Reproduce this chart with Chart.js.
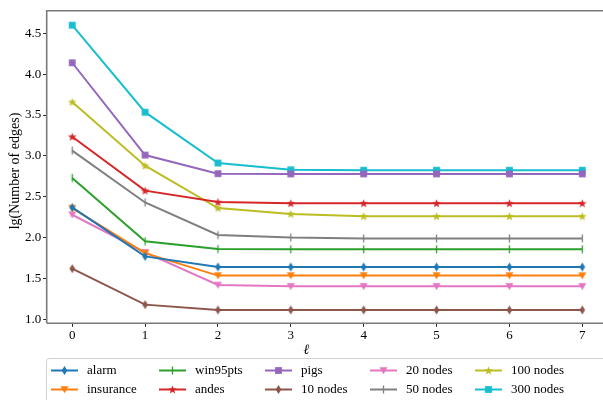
<!DOCTYPE html>
<html>
<head>
<meta charset="utf-8">
<script src="https://cdn.jsdelivr.net/npm/chart.js@4.4.1/dist/chart.umd.min.js"></script>
<style>
  html, body { margin: 0; padding: 0; background: #fff; overflow: hidden; }
  #wrap { position: relative; width: 603px; height: 400px; }
  canvas { display: block; width: 603px; height: 400px; }
</style>
</head>
<body>
<div id="wrap"><canvas id="chart" width="603" height="400"></canvas></div>
<script>
// Neighbourhood depth ℓ on the x axis
const levels = [0, 1, 2, 3, 4, 5, 6, 7];
const yTicks = [1.0, 1.5, 2.0, 2.5, 3.0, 3.5, 4.0, 4.5];

// lg(number of edges) per network
const alarm     = [2.37, 1.77, 1.64, 1.64, 1.64, 1.64, 1.64, 1.64];
const insurance = [2.36, 1.81, 1.535, 1.535, 1.535, 1.535, 1.535, 1.535];
const win95pts  = [2.73, 1.955, 1.86, 1.857, 1.857, 1.857, 1.857, 1.857];
const andes     = [3.235, 2.575, 2.435, 2.42, 2.42, 2.42, 2.42, 2.42];
const pigs      = [4.14, 3.01, 2.783, 2.78, 2.78, 2.78, 2.78, 2.78];
const nodes10   = [1.62, 1.18, 1.115, 1.115, 1.115, 1.115, 1.115, 1.115];
const nodes20   = [2.28, 1.82, 1.42, 1.404, 1.404, 1.404, 1.404, 1.404];
const nodes50   = [3.065, 2.43, 2.032, 2.0, 1.99, 1.99, 1.99, 1.99];
const nodes100  = [3.66, 2.88, 2.362, 2.29, 2.262, 2.262, 2.262, 2.262];
const nodes300  = [4.60, 3.535, 2.913, 2.83, 2.825, 2.825, 2.825, 2.825];

const seriesNames = ['alarm', 'insurance', 'win95pts', 'andes', 'pigs',
                     '10 nodes', '20 nodes', '50 nodes', '100 nodes', '300 nodes'];
const seriesValues = [alarm, insurance, win95pts, andes, pigs,
                      nodes10, nodes20, nodes50, nodes100, nodes300];
const seriesColors = ['#1f77b4', '#ff7f0e', '#2ca02c', '#d62728', '#9467bd',
                      '#8c564b', '#e377c2', '#7f7f7f', '#bcbd22', '#17becf'];
const seriesMarkers = ['thinDiamond', 'triDown', 'vline', 'star', 'square',
                       'thinDiamond', 'triDown', 'vline', 'star', 'square'];

const FONT = '"Liberation Serif", "Times New Roman", serif';

// small marker sprites
function makeMarker(kind, color) {
  const c = document.createElement('canvas');
  const s = 11;
  c.width = s; c.height = s;
  const g = c.getContext('2d');
  g.fillStyle = color; g.strokeStyle = color;
  const m = s / 2;
  g.beginPath();
  if (kind === 'thinDiamond') {
    g.moveTo(m, m - 4.6); g.lineTo(m + 2.8, m); g.lineTo(m, m + 4.6); g.lineTo(m - 2.8, m);
    g.closePath(); g.fill();
  } else if (kind === 'triDown') {
    g.moveTo(m - 4, m - 3.3); g.lineTo(m + 4, m - 3.3); g.lineTo(m, m + 3.8);
    g.closePath(); g.fill();
  } else if (kind === 'square') {
    g.rect(m - 3.4, m - 3.4, 6.8, 6.8); g.fill();
  } else if (kind === 'star') {
    const R = 4.5, r = 1.9;
    for (let i = 0; i < 10; i++) {
      const a = -Math.PI / 2 + i * Math.PI / 5;
      const rr = i % 2 === 0 ? R : r;
      const px = m + rr * Math.cos(a), py = m + rr * Math.sin(a) + 0.4;
      if (i === 0) g.moveTo(px, py); else g.lineTo(px, py);
    }
    g.closePath(); g.fill();
  } else if (kind === 'vline') {
    g.lineWidth = 1.3;
    g.moveTo(m, m - 4); g.lineTo(m, m + 4); g.stroke();
  }
  return c;
}

const markerImgs = seriesNames.map((n, i) => makeMarker(seriesMarkers[i], seriesColors[i]));

const datasets = seriesNames.map((name, i) => ({
  label: name,
  data: levels.map((x, j) => ({ x: x, y: seriesValues[i][j] })),
  borderColor: seriesColors[i],
  backgroundColor: seriesColors[i],
  borderWidth: 2,
  pointStyle: markerImgs[i],
  pointRadius: 4,
  pointHoverRadius: 4,
  tension: 0,
  clip: false
}));

// frame, axis titles and the two-row legend
const decorations = {
  id: 'decorations',
  afterDraw(chart) {
    const ctx = chart.ctx;
    const a = chart.chartArea;
    ctx.save();
    ctx.strokeStyle = '#7a7a7a';
    ctx.lineWidth = 1.6;
    ctx.beginPath();
    ctx.moveTo(a.left, a.bottom);
    ctx.lineTo(a.left, a.top);
    ctx.lineTo(a.right + 20, a.top);
    ctx.moveTo(a.left, a.bottom);
    ctx.lineTo(a.right + 20, a.bottom);
    ctx.stroke();

    // axis titles
    ctx.fillStyle = '#000';
    ctx.textAlign = 'center';
    ctx.textBaseline = 'middle';
    ctx.font = 'italic 14px ' + FONT;
    ctx.fillText('ℓ', 306.5, 350);
    ctx.save();
    ctx.translate(15, 171);
    ctx.rotate(-Math.PI / 2);
    ctx.font = '14px ' + FONT;
    ctx.fillText('lg(Number of edges)', 0, 0);
    ctx.restore();

    // legend box, running past the right and bottom edges
    ctx.beginPath();
    ctx.roundRect(46.5, 358.5, 640, 80, 3);
    ctx.fillStyle = 'rgba(255,255,255,0.8)';
    ctx.fill();
    ctx.strokeStyle = '#d0d0d0';
    ctx.lineWidth = 1;
    ctx.stroke();

    const colX = [51, 159, 265, 370, 475];
    const rowY = [370.5, 389.5];
    ctx.font = '13px ' + FONT;
    ctx.textAlign = 'left';
    ctx.textBaseline = 'middle';
    seriesNames.forEach((name, i) => {
      const col = Math.floor(i / 2), row = i % 2;
      const x0 = colX[col], y0 = rowY[row];
      ctx.strokeStyle = seriesColors[i];
      ctx.lineWidth = 2;
      ctx.beginPath();
      ctx.moveTo(x0, y0); ctx.lineTo(x0 + 27, y0); ctx.stroke();
      const img = markerImgs[i];
      ctx.drawImage(img, x0 + 13.5 - img.width / 2, y0 - img.height / 2);
      ctx.fillStyle = '#000';
      ctx.fillText(name, x0 + 36, y0 + 0.5);
    });
    ctx.restore();
  }
};

new Chart(document.getElementById('chart'), {
  type: 'line',
  data: { datasets: datasets },
  plugins: [decorations],
  options: {
    responsive: false,
    animation: false,
    events: [],
    layout: { padding: { top: 10.7, right: 0, left: 0, bottom: 0 } },
    plugins: { legend: { display: false }, tooltip: { enabled: false } },
    scales: {
      x: {
        type: 'linear',
        min: -0.35,
        max: 7.202,
        afterBuildTicks(scale) { scale.ticks = levels.map(v => ({ value: v })); },
        afterFit(scale) {
          scale.height = 400 - 323.3;
          scale.paddingLeft = 0;
          scale.paddingRight = 0;
        },
        ticks: {
          color: '#000',
          font: { family: FONT, size: 13 },
          padding: 1,
          maxRotation: 0,
          callback: v => String(v)
        },
        grid: { drawOnChartArea: false, drawTicks: true, tickLength: 3.5, tickColor: '#222', tickWidth: 1 },
        border: { display: false }
      },
      y: {
        type: 'linear',
        min: 0.9515,
        max: 4.777,
        afterBuildTicks(scale) { scale.ticks = yTicks.map(v => ({ value: v })); },
        afterFit(scale) {
          scale.width = 46.7;
          scale.paddingTop = 0;
          scale.paddingBottom = 0;
        },
        ticks: {
          color: '#000',
          font: { family: FONT, size: 13 },
          padding: 2,
          callback: v => Number(v).toFixed(1)
        },
        grid: { drawOnChartArea: false, drawTicks: true, tickLength: 3.5, tickColor: '#222', tickWidth: 1 },
        border: { display: false }
      }
    }
  }
});
</script>
</body>
</html>
